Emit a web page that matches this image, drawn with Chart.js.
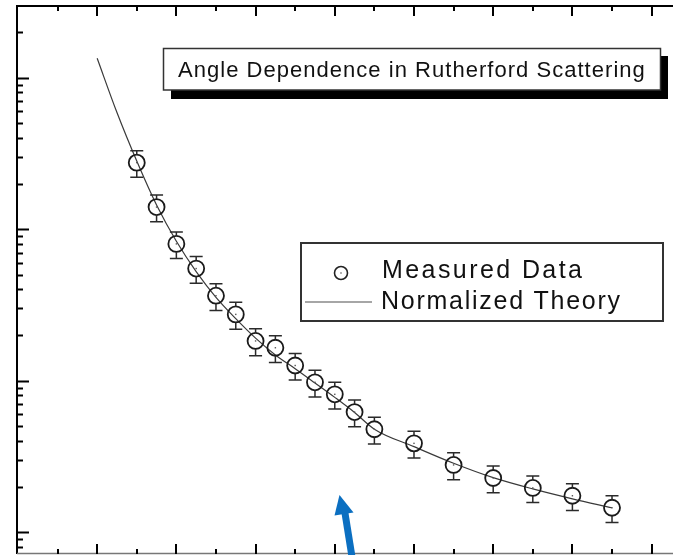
<!DOCTYPE html>
<html>
<head>
<meta charset="utf-8">
<script src="https://cdn.jsdelivr.net/npm/chart.js@4.4.1/dist/chart.umd.min.js"></script>
<style>
  html, body { margin: 0; padding: 0; background: #fff; overflow: hidden; }
  canvas { display: block; }
</style>
</head>
<body>
<canvas id="chart" width="673" height="555"></canvas>
<script>
// Measured points (angle units, counts on the log axis)
const angles = [15, 17.5, 20, 22.5, 25, 27.5, 30, 32.5, 35, 37.5, 40, 42.5, 45, 50, 55, 60, 65, 70, 75];
const counts = [2750, 1400, 800, 550, 364, 274, 183, 165, 126, 97.6, 81.3, 62.1, 47.8, 38.6, 27.8, 22.8, 19.6, 17.4, 14.5];
const countErrors = [550, 280, 160, 110, 73, 55, 37, 33, 25, 19.5, 16.3, 12.4, 9.6, 7.7, 5.6, 4.6, 3.9, 3.5, 2.9];

// Normalized theory curve
const theoryAngles = [10, 12.5, 15, 17.5, 20, 22.5, 25, 27.5, 30, 32.5, 35, 37.5, 40, 42.5, 45, 50, 55, 60, 65, 70, 75];
const theoryCounts = [13430, 5888, 2818, 1445, 832, 525, 355, 257, 191, 148, 120, 96.6, 77.6, 61.7, 47.9, 36.7, 28.5, 22.9, 19.3, 16.6, 14.5];

// Axis ticks (no labels shown in the picture)
const xTicks = [5, 10, 15, 20, 25, 30, 35, 40, 45, 50, 55, 60, 65, 70, 75, 80];
const yDecades = [1, 10, 100, 1000, 10000];

const titleText = 'Angle Dependence in Rutherford Scattering';
const legendLabels = ['Measured Data', 'Normalized Theory'];

const FONT = '"Liberation Sans", Arial, Helvetica, sans-serif';

// text squeezed/spread to a given width
function fitText(ctx, text, x, y, width) {
    ctx.letterSpacing = '0px';
    const w = ctx.measureText(text).width;
    ctx.letterSpacing = ((width - w) / (text.length - 1)).toFixed(2) + 'px';
    ctx.fillText(text, x, y);
    ctx.letterSpacing = '0px';
}

// draws frame, inward ticks, error bars, title box, legend and the arrow
const extras = {
    id: 'extras',
    afterDatasetsDraw(chart) {
        const ctx = chart.ctx;
        const area = chart.chartArea;
        const xs = chart.scales.x;
        const ys = chart.scales.y;
        ctx.save();

        // error bars + centre dots
        const r = 8;
        ctx.strokeStyle = '#2a2a2a';
        ctx.lineWidth = 1.5;
        angles.forEach((a, i) => {
            const px = xs.getPixelForValue(a);
            const py = ys.getPixelForValue(counts[i]);
            const top = ys.getPixelForValue(counts[i] + countErrors[i]);
            const bot = ys.getPixelForValue(counts[i] - countErrors[i]);
            ctx.beginPath();
            ctx.moveTo(px, top); ctx.lineTo(px, py - r);
            ctx.moveTo(px, py + r); ctx.lineTo(px, bot);
            ctx.moveTo(px - 6.5, top); ctx.lineTo(px + 6.5, top);
            ctx.moveTo(px - 6.5, bot); ctx.lineTo(px + 6.5, bot);
            ctx.stroke();
            ctx.fillStyle = '#555';
            ctx.fillRect(px - 0.7, py - 0.7, 1.4, 1.4);
        });

        // frame
        ctx.strokeStyle = '#000';
        ctx.lineWidth = 2;
        ctx.beginPath();
        ctx.moveTo(area.left, area.bottom);
        ctx.lineTo(area.left, area.top);
        ctx.lineTo(area.right, area.top);
        ctx.stroke();
        ctx.strokeStyle = '#777';
        ctx.lineWidth = 1.5;
        ctx.beginPath();
        ctx.moveTo(area.left, area.bottom - 0.5);
        ctx.lineTo(area.right, area.bottom - 0.5);
        ctx.stroke();

        // x ticks, top and bottom, pointing inwards
        ctx.strokeStyle = '#000';
        ctx.lineWidth = 2;
        xTicks.forEach(t => {
            const px = Math.round(xs.getPixelForValue(t));
            const len = t % 10 === 0 ? 10 : 5;
            ctx.beginPath();
            ctx.moveTo(px, area.top); ctx.lineTo(px, area.top + len);
            ctx.moveTo(px, area.bottom); ctx.lineTo(px, area.bottom - len);
            ctx.stroke();
        });

        // y ticks on the left, decades long, 2..9 short
        yDecades.forEach(d => {
            for (let m = 1; m <= 9; m++) {
                const v = d * m;
                if (v < ys.min || v > ys.max) continue;
                const py = Math.round(ys.getPixelForValue(v)) + 0.5;
                ctx.beginPath();
                ctx.moveTo(area.left, py);
                ctx.lineTo(area.left + (m === 1 ? 12 : 6), py);
                ctx.stroke();
            }
        });

        // title box with drop shadow
        ctx.fillStyle = '#000';
        ctx.fillRect(171, 56, 497, 43);
        ctx.fillStyle = '#fff';
        ctx.fillRect(163, 48, 498, 42);
        ctx.strokeStyle = '#333';
        ctx.lineWidth = 1.5;
        ctx.strokeRect(163.5, 48.5, 497, 41.5);
        ctx.fillStyle = '#111';
        ctx.font = '22px ' + FONT;
        ctx.textBaseline = 'middle';
        ctx.textAlign = 'left';
        fitText(ctx, titleText, 178, 71, 467);

        // legend
        ctx.strokeStyle = '#333';
        ctx.lineWidth = 2;
        ctx.fillStyle = '#fff';
        ctx.fillRect(301, 243, 362, 78);
        ctx.strokeRect(301, 243, 362, 78);
        ctx.strokeStyle = '#222';
        ctx.lineWidth = 1.6;
        ctx.beginPath();
        ctx.arc(341, 273, 6.5, 0, Math.PI * 2);
        ctx.stroke();
        ctx.fillStyle = '#666';
        ctx.fillRect(340.3, 272.3, 1.4, 1.4);
        ctx.strokeStyle = '#888';
        ctx.lineWidth = 1.5;
        ctx.beginPath();
        ctx.moveTo(305, 302); ctx.lineTo(372, 302);
        ctx.stroke();
        ctx.fillStyle = '#111';
        ctx.font = '25px ' + FONT;
        fitText(ctx, legendLabels[0], 382, 271, 200);
        fitText(ctx, legendLabels[1], 381, 302, 239);

        // blue arrow
        ctx.strokeStyle = '#0b6fc1';
        ctx.fillStyle = '#0b6fc1';
        ctx.lineWidth = 7;
        ctx.beginPath();
        ctx.moveTo(352.5, 560);
        ctx.lineTo(344.5, 510);
        ctx.stroke();
        ctx.beginPath();
        ctx.moveTo(339.5, 495);
        ctx.lineTo(353.5, 512.5);
        ctx.lineTo(334.5, 515.5);
        ctx.closePath();
        ctx.fill();

        ctx.restore();
    }
};

const config = {
    type: 'scatter',
    data: {
        datasets: [{
            label: legendLabels[0],
            data: angles.map((a, i) => ({ x: a, y: counts[i] })),
            showLine: false,
            pointRadius: 8,
            pointBorderWidth: 1.8,
            pointBorderColor: '#1a1a1a',
            pointBackgroundColor: 'rgba(0,0,0,0)'
        }, {
            label: legendLabels[1],
            type: 'line',
            data: theoryAngles.map((a, i) => ({ x: a, y: theoryCounts[i] })),
            borderColor: '#3a3a3a',
            borderWidth: 1.2,
            pointRadius: 0,
            fill: false,
            cubicInterpolationMode: 'monotone'
        }]
    },
    options: {
        responsive: false,
        animation: false,
        devicePixelRatio: 1,
        layout: { autoPadding: false, padding: { left: 17, top: 6, right: 0, bottom: 1 } },
        plugins: { legend: { display: false }, tooltip: { enabled: false } },
        scales: {
            x: { type: 'linear', min: -0.12, max: 82.7, display: false },
            y: { type: 'logarithmic', min: 7.18, max: 29740, display: false }
        }
    },
    plugins: [extras]
};

new Chart(document.getElementById('chart').getContext('2d'), config);
</script>
</body>
</html>
